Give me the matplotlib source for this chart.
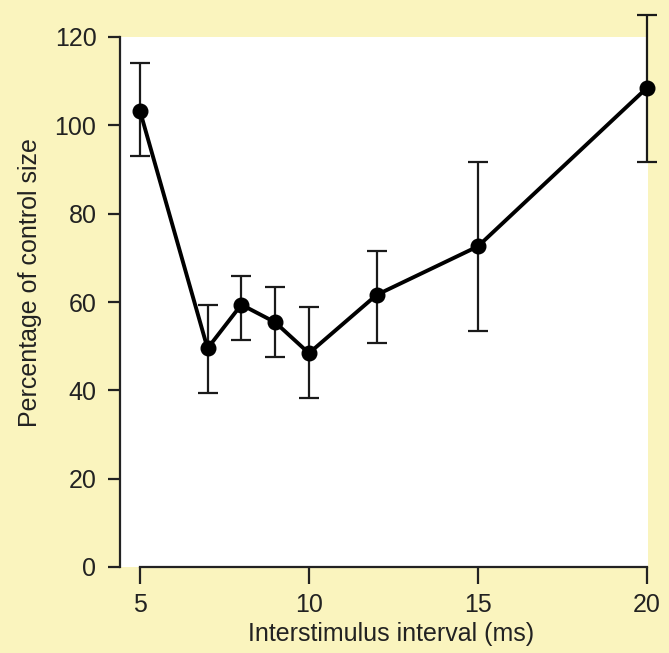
import matplotlib
matplotlib.use("Agg")
import matplotlib.pyplot as plt

interval_ms = [5, 7, 8, 9, 10, 12, 15, 20]
percent_control = [103.3, 49.5, 59.4, 55.4, 48.4, 61.6, 72.6, 108.5]
err_upper = [114.1, 59.4, 66.0, 63.5, 58.8, 71.5, 91.8, 125.0]
err_lower = [93.1, 39.3, 51.5, 47.5, 38.2, 50.8, 53.5, 91.8]
x_ticks = [5, 10, 15, 20]
y_ticks = [0, 20, 40, 60, 80, 100, 120]

plt.rcParams['font.family'] = ['Liberation Sans', 'DejaVu Sans']

bg = '#FAF4BE'
fig = plt.figure(figsize=(6.69, 6.53), dpi=100, facecolor=bg)
ax = fig.add_axes([120/669, 1 - 567/653, 528/669, 530/653])
ax.set_facecolor('white')

yerr = [[p - lo for p, lo in zip(percent_control, err_lower)],
        [hi - p for p, hi in zip(percent_control, err_upper)]]
ax.errorbar(interval_ms, percent_control, yerr=yerr, fmt='none', ecolor='#1a1a1a',
            elinewidth=1.6, capsize=7, capthick=1.6, zorder=2, clip_on=False)
ax.plot(interval_ms, percent_control, color='black', lw=2.8, marker='o', ms=10.5,
        zorder=3, clip_on=False)

ax.set_xlim(4.41, 20.03)
ax.set_ylim(0, 120)
ax.set_xticks(x_ticks)
ax.set_yticks(y_ticks)
for s in ['top', 'right']:
    ax.spines[s].set_visible(False)
ax.spines['bottom'].set_bounds(5, 20)
for s in ['left', 'bottom']:
    ax.spines[s].set_linewidth(1.6)
    ax.spines[s].set_color('#222222')
ax.tick_params(axis='both', direction='out', width=1.6, color='#222222',
               labelsize=18, labelcolor='#222222')
ax.tick_params(axis='y', length=9, pad=8)
ax.tick_params(axis='x', length=12, pad=7)
ax.set_xlabel('Interstimulus interval (ms)', fontsize=18, color='#222222')
ax.set_ylabel('Percentage of control size', fontsize=18, color='#222222')
ax.xaxis.set_label_coords(0.514, -0.104)
ax.yaxis.set_label_coords(-0.147, 0.536)

fig.savefig('out.png', dpi=100, facecolor=bg)
